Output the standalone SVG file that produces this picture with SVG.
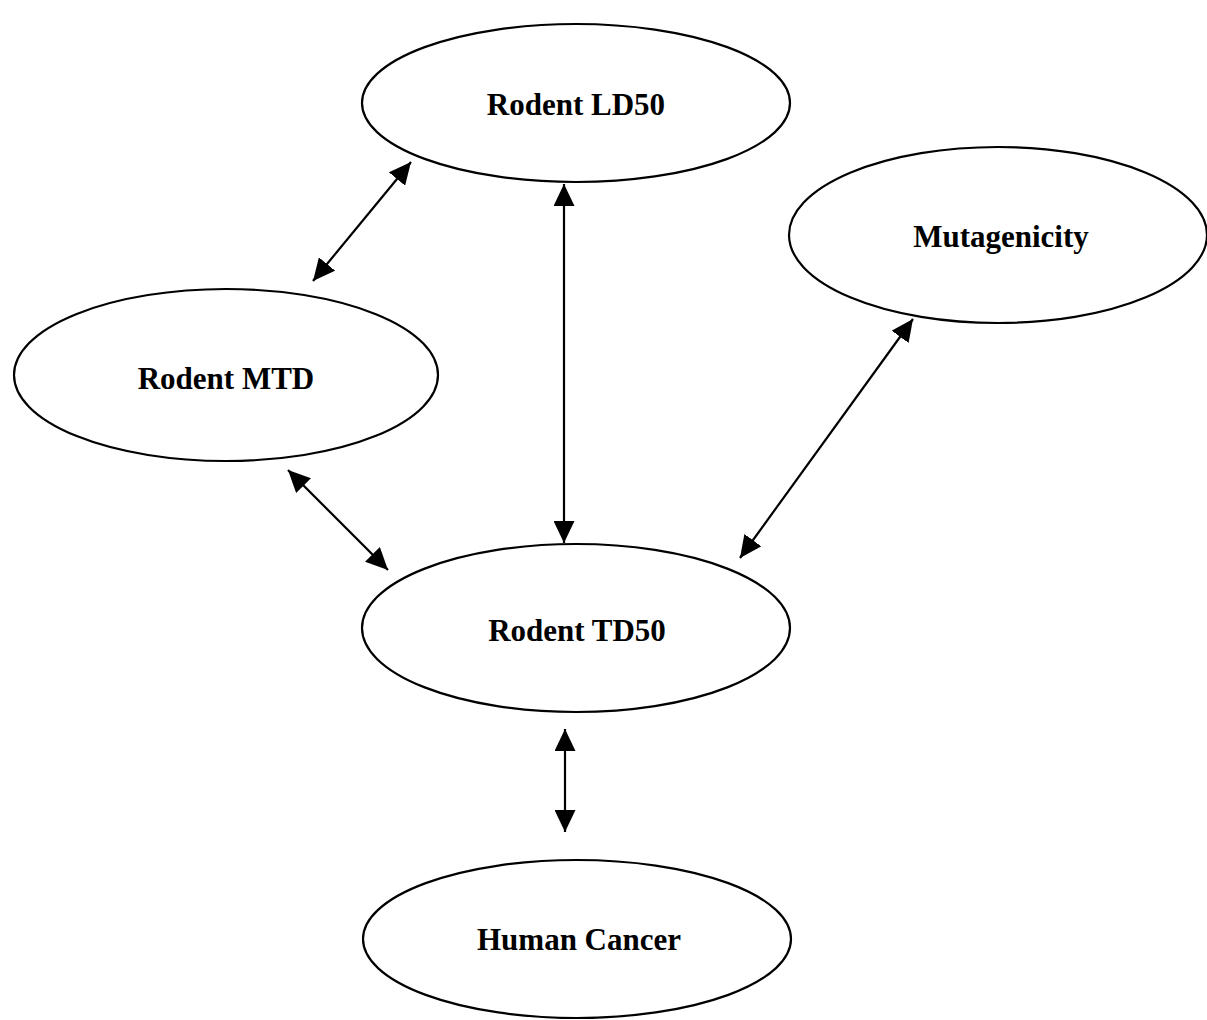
<svg xmlns="http://www.w3.org/2000/svg" width="1207" height="1020" viewBox="0 0 1207 1020">
<style>
.node ellipse{fill:#fff;stroke:#000;stroke-width:2.2}
.node text{font-family:"Liberation Serif","Times New Roman",serif;font-weight:bold;font-size:31px;text-anchor:middle;fill:#000}
.conn line{stroke:#000;stroke-width:2.2}
</style>
<defs>
<marker id="a" viewBox="0 0 22 21" refX="22" refY="10.5" markerWidth="22" markerHeight="21" markerUnits="userSpaceOnUse" orient="auto-start-reverse">
<path d="M0,0 L22,10.5 L0,21 Z" fill="#000"/>
</marker>
</defs>
<rect width="1207" height="1020" fill="#fff"/>
<g id="ld50" class="node"><ellipse cx="576" cy="103" rx="214" ry="79"/><text x="576" y="115">Rodent LD50</text></g>
<g id="mutagenicity" class="node"><ellipse cx="998" cy="235" rx="209" ry="88"/><text x="1001" y="247">Mutagenicity</text></g>
<g id="mtd" class="node"><ellipse cx="226" cy="375" rx="212" ry="86"/><text x="226" y="389">Rodent MTD</text></g>
<g id="td50" class="node"><ellipse cx="576" cy="628" rx="214" ry="84"/><text x="577" y="641">Rodent TD50</text></g>
<g id="human" class="node"><ellipse cx="577" cy="939" rx="214" ry="79"/><text x="579" y="950">Human Cancer</text></g>
<g id="connectors" class="conn">
<line x1="313" y1="281" x2="411" y2="162" marker-start="url(#a)" marker-end="url(#a)"/>
<line x1="564" y1="184" x2="564" y2="543" marker-start="url(#a)" marker-end="url(#a)"/>
<line x1="288" y1="470" x2="388" y2="570" marker-start="url(#a)" marker-end="url(#a)"/>
<line x1="913" y1="319" x2="740" y2="558" marker-start="url(#a)" marker-end="url(#a)"/>
<line x1="565" y1="729" x2="565" y2="832" marker-start="url(#a)" marker-end="url(#a)"/>
</g>
</svg>
